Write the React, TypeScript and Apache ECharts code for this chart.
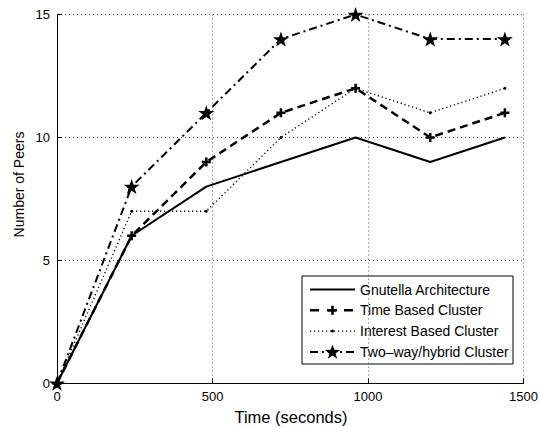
import React, { useEffect, useRef } from "react";
import * as echarts from "echarts";

// Sample times (seconds)
const times = [0, 240, 480, 720, 960, 1200, 1440];

// Number of peers per architecture
const gnutella = [0, 6, 8, 9, 10, 9, 10];
const timeBased = [0, 6, 9, 11, 12, 10, 11];
const interestBased = [0, 7, 7, 10, 12, 11, 12];
const twoWay = [0, 8, 11, 14, 15, 14, 14];

const seriesNames = [
  "Gnutella Architecture",
  "Time Based Cluster",
  "Interest Based Cluster",
  "Two\u2013way/hybrid Cluster",
];

const xTicks = [0, 500, 1000, 1500];
const yTicks = [0, 5, 10, 15];

const FONT = "Liberation Sans, Arial, Helvetica, sans-serif";

const STAR_PATH =
  "path://M50,0 L61.8,35.1 L98.9,35.1 L68.9,57.4 L79.4,91.9 L50,70.8 L20.6,91.9 L31.1,57.4 L1.1,35.1 L38.2,35.1 Z";
const PLUS_PATH =
  "path://M3.6,0 H6.4 V3.6 H10 V6.4 H6.4 V10 H3.6 V6.4 H0 V3.6 H3.6 Z";

function pairs(ys: number[]) {
  return times.map((t, i) => [t, ys[i]]);
}

function starPoints(cx: number, cy: number, r: number) {
  const pts: number[][] = [];
  for (let i = 0; i < 10; i++) {
    const rad = i % 2 === 0 ? r : r * 0.4;
    const a = -Math.PI / 2 + (i * Math.PI) / 5;
    pts.push([cx + rad * Math.cos(a), cy + rad * Math.sin(a)]);
  }
  return pts;
}

function plusPoints(cx: number, cy: number, s: number, t: number) {
  const h = s / 2;
  const w = t / 2;
  return [
    [cx - w, cy - h], [cx + w, cy - h], [cx + w, cy - w], [cx + h, cy - w],
    [cx + h, cy + w], [cx + w, cy + w], [cx + w, cy + h], [cx - w, cy + h],
    [cx - w, cy + w], [cx - h, cy + w], [cx - h, cy - w], [cx - w, cy - w],
  ];
}

const plain = (v: number) => String(v);

export default function App() {
  const ref = useRef<HTMLDivElement>(null);

  useEffect(() => {
    if (!ref.current) return;
    const chart = echarts.init(ref.current, undefined, { renderer: "svg" });

    const lx1 = 310;
    const lx2 = 355;
    const lmid = 332.5;
    const rows = [289.5, 310.3, 331.1, 351.9];
    const lineStyles = [
      { lineWidth: 2 },
      { lineWidth: 2.5, lineDash: [9, 8] },
      { lineWidth: 1.4, lineDash: [1.2, 2.8] },
      { lineWidth: 2, lineDash: [8, 4, 2, 4] },
    ];

    const legendEls: any[] = [
      {
        type: "rect",
        shape: { x: 302, y: 276, width: 211, height: 88 },
        style: { fill: "#fff", stroke: "#000", lineWidth: 1 },
      },
    ];
    rows.forEach((y, i) => {
      legendEls.push({
        type: "line",
        shape: { x1: lx1, y1: y, x2: lx2, y2: y },
        style: { stroke: "#000", fill: null, ...lineStyles[i] },
      });
      legendEls.push({
        type: "text",
        x: 360,
        y,
        style: {
          text: seriesNames[i],
          fontSize: 14,
          fontFamily: FONT,
          fill: "#000",
          verticalAlign: "middle",
          align: "left",
        },
      });
    });
    legendEls.push({
      type: "polygon",
      shape: { points: plusPoints(lmid, rows[1], 9, 2.6) },
      style: { fill: "#000" },
    });
    legendEls.push({
      type: "circle",
      shape: { cx: lmid, cy: rows[2], r: 1.5 },
      style: { fill: "#000" },
    });
    legendEls.push({
      type: "polygon",
      shape: { points: starPoints(lmid, rows[3] + 0.5, 8) },
      style: { fill: "#000" },
    });

    const axisCommon = {
      type: "value",
      axisLine: { show: true, onZero: false, lineStyle: { color: "#000", width: 1 } },
      axisTick: { show: true, inside: true, length: 5, lineStyle: { color: "#000" } },
      axisLabel: { color: "#000", fontSize: 13, fontFamily: FONT, margin: 7, formatter: plain },
      splitLine: {
        show: true,
        lineStyle: { color: "#555", width: 1, type: [1, 3] },
      },
    };

    const option: any = {
      animation: false,
      backgroundColor: "#fff",
      grid: { left: 57, right: 17, top: 14.5, bottom: 43.7, containLabel: false },
      xAxis: {
        ...axisCommon,
        min: xTicks[0],
        max: xTicks[xTicks.length - 1],
        interval: xTicks[1] - xTicks[0],
      },
      yAxis: {
        ...axisCommon,
        min: yTicks[0],
        max: yTicks[yTicks.length - 1],
        interval: yTicks[1] - yTicks[0],
      },
      series: [
        {
          name: seriesNames[0],
          type: "line",
          data: pairs(gnutella),
          showSymbol: false,
          symbol: "none",
          lineStyle: { color: "#000", width: 2 },
          z: 3,
        },
        {
          name: seriesNames[1],
          type: "line",
          data: pairs(timeBased),
          symbol: PLUS_PATH,
          symbolSize: 9,
          itemStyle: { color: "#000" },
          lineStyle: { color: "#000", width: 2.5, type: [8, 5] },
          z: 4,
        },
        {
          name: seriesNames[2],
          type: "line",
          data: pairs(interestBased),
          symbol: "circle",
          symbolSize: 3,
          itemStyle: { color: "#000" },
          lineStyle: { color: "#000", width: 1.4, type: [1.2, 2.8] },
          z: 2,
        },
        {
          name: seriesNames[3],
          type: "line",
          data: pairs(twoWay),
          symbol: STAR_PATH,
          symbolSize: 16,
          symbolKeepAspect: true,
          itemStyle: { color: "#000" },
          lineStyle: { color: "#000", width: 2, type: [8, 4, 2, 4] },
          z: 5,
        },
      ],
      graphic: [
        {
          type: "text",
          x: 19,
          y: 184.5,
          rotation: Math.PI / 2,
          style: {
            text: "Number of Peers",
            fontSize: 14,
            fontFamily: FONT,
            fill: "#000",
            align: "center",
            verticalAlign: "middle",
          },
        },
        {
          type: "text",
          x: 291,
          y: 416.5,
          style: {
            text: "Time (seconds)",
            fontSize: 16.5,
            fontFamily: FONT,
            fill: "#000",
            align: "center",
            verticalAlign: "middle",
          },
        },
        { type: "group", z: 100, children: legendEls },
      ],
    };

    chart.setOption(option);
    return () => chart.dispose();
  }, []);

  return (
    <div
      ref={ref}
      style={{ position: "fixed", left: 0, top: 0, width: 541, height: 427 }}
    />
  );
}
